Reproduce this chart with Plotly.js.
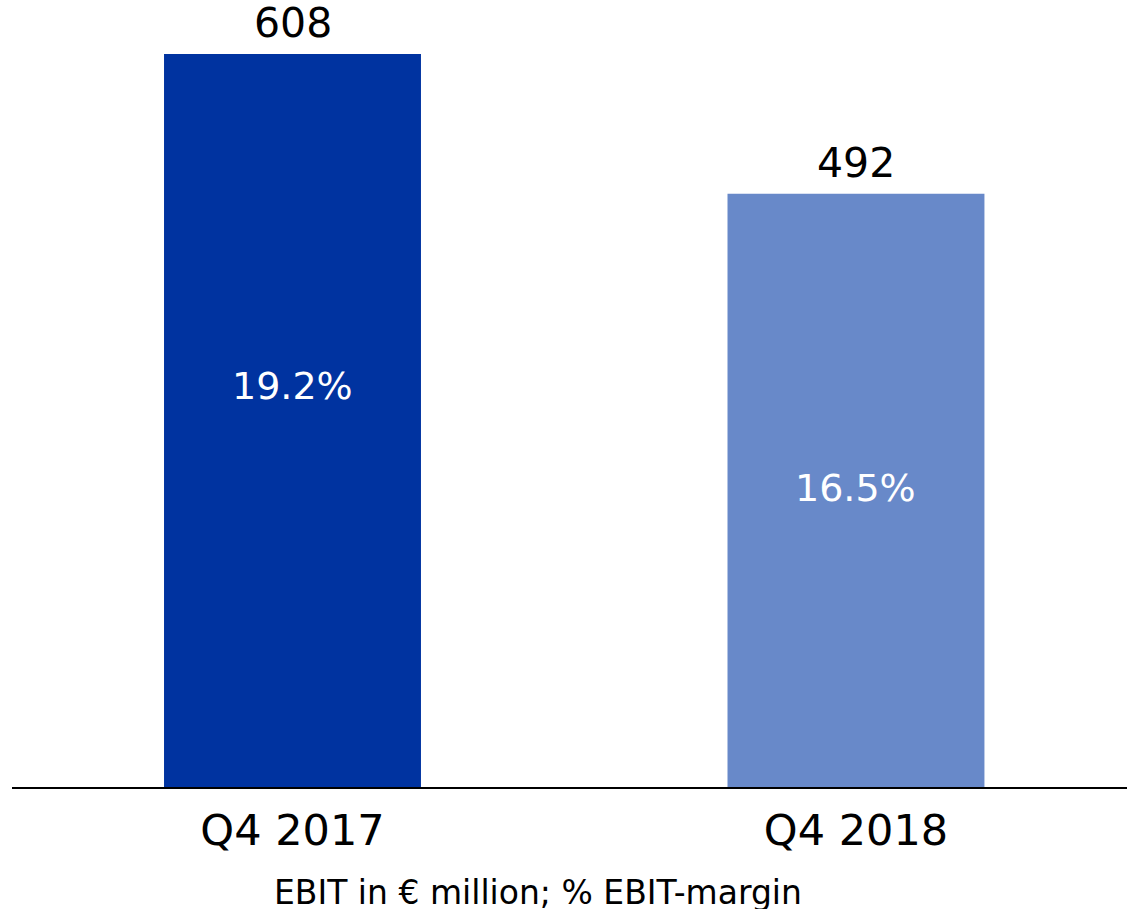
<!DOCTYPE html>
<html>
<head>
<meta charset="utf-8">
<script src="https://cdn.plot.ly/plotly-3.0.1.min.js"></script>
<style>html,body{margin:0;padding:0;background:#fff;}#chart{width:1127px;height:909px;}</style>
</head>
<body>
<div id="chart"></div>
<script>
// Data
var categories = ["Q4 2017", "Q4 2018"];
var ebit = [608, 492];
var marginLabels = ["19.2%", "16.5%"];
var marginLabelY = [333, 248];
var barColors = ["#0033A0", "#6889C9"];
var titleText = "EBIT in € million; % EBIT-margin";

var xPos = categories.map(function (c, i) { return i; });
var FONT = "Verdana, 'DejaVu Sans', sans-serif";

var trace = {
  type: "bar",
  x: xPos,
  y: ebit,
  width: 0.456,
  marker: { color: barColors },
  hoverinfo: "none"
};

var annotations = [];
ebit.forEach(function (v, i) {
  annotations.push({
    x: xPos[i], y: v, xref: "x", yref: "y",
    text: String(v), showarrow: false,
    yanchor: "bottom", yshift: 5,
    font: { family: FONT, size: 41, color: "#000" }
  });
  annotations.push({
    x: xPos[i], y: marginLabelY[i], xref: "x", yref: "y",
    text: marginLabels[i], showarrow: false,
    yanchor: "middle",
    font: { family: FONT, size: 38, color: "#fff" }
  });
});
annotations.push({
  x: 0.4717, y: 0, xref: "paper", yref: "paper",
  yanchor: "top", yshift: -84,
  text: titleText, showarrow: false,
  font: { family: FONT, size: 33, color: "#000" }
});

var layout = {
  width: 1127, height: 909,
  margin: { l: 12, r: 0, t: 0, b: 122, pad: 0 },
  paper_bgcolor: "#fff", plot_bgcolor: "#fff",
  showlegend: false,
  xaxis: {
    range: [-0.4978, 1.481],
    tickvals: xPos, ticktext: categories,
    showline: true, linecolor: "#000", linewidth: 1.5,
    showgrid: false, zeroline: false,
    ticks: "outside", ticklen: 5, tickcolor: "rgba(0,0,0,0)",
    tickfont: { family: FONT, size: 43, color: "#000" }
  },
  yaxis: {
    range: [0, 652.8], visible: false, showgrid: false, zeroline: false
  },
  annotations: annotations
};

Plotly.newPlot("chart", [trace], layout, { staticPlot: true, displayModeBar: false });
</script>
</body>
</html>
